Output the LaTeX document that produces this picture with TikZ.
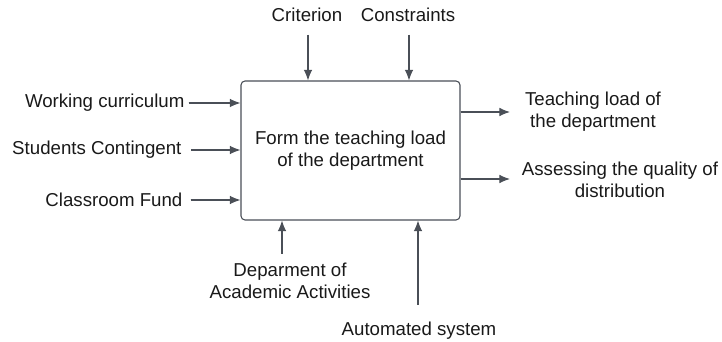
\documentclass[tikz,border=0pt]{standalone}
\usepackage{fontspec}
\setmainfont{Liberation Sans}
\usetikzlibrary{arrows.meta,positioning}
\definecolor{linegray}{HTML}{4A4F57}
\definecolor{headgray}{HTML}{343A42}

\begin{document}
\begin{tikzpicture}[x=0.75pt,y=-0.75pt]
\tikzstyle{func}=[rectangle, rounded corners=3pt, draw=linegray, line width=0.8pt, minimum width=164.25pt, minimum height=104.25pt, align=center, font=\fontsize{14}{16.5}\selectfont, text=black!90]
\tikzstyle{lbl}=[font=\fontsize{14}{16.5}\selectfont, text=black!90, align=center, inner sep=1pt]
\tikzstyle{connect}=[-{Latex[length=8pt,width=6.5pt]}, draw=linegray, fill=headgray, line width=0.8pt]
\useasboundingbox (0,0) rectangle (722,342);
  \node[func] (box) at (350.5,150.5) {Form the teaching load\\of the department};
% inputs
  \node[lbl, anchor=east] (wc) at (186,103) {Working curriculum};
  \node[lbl, anchor=east] (sc) at (183,150) {Students Contingent};
  \node[lbl, anchor=east] (cf) at (184,200) {Classroom Fund};
% controls
  \node[lbl] (crit) at (307,15) {Criterion};
  \node[lbl] (cons) at (408,15) {Constraints};
  \coordinate (critin) at (308,35);
  \coordinate (consin) at (409,35);
% outputs
  \node[lbl] (tl) at (593,112) {Teaching load of\\the department};
  \node[lbl] (aq) at (620,180) {Assessing the quality of\\distribution};
  \coordinate (tlout) at (510,112);
  \coordinate (aqout) at (510,179);
% mechanisms
  \node[lbl] (dep) at (290,281) {Deparment of\\Academic Activities};
  \node[lbl] (auto) at (419,331) {Automated system};
  \coordinate (depin) at (282,254);
  \coordinate (autoin) at (418,305);
\path (wc.east) edge[connect, shorten <=2pt] (wc -| box.west)
      (sc.east) edge[connect, shorten <=6pt] (sc -| box.west)
      (cf.east) edge[connect, shorten <=5pt] (cf -| box.west)
      (critin) edge[connect] (critin |- box.north)
      (consin) edge[connect] (consin |- box.north)
      ;
\draw[connect] (box.east |- tlout) -- (tlout);
\draw[connect] (box.east |- aqout) -- (aqout);
\draw[connect] (depin) -- (depin |- box.south);
\draw[connect] (autoin) -- (autoin |- box.south);
\end{tikzpicture}
\end{document}
